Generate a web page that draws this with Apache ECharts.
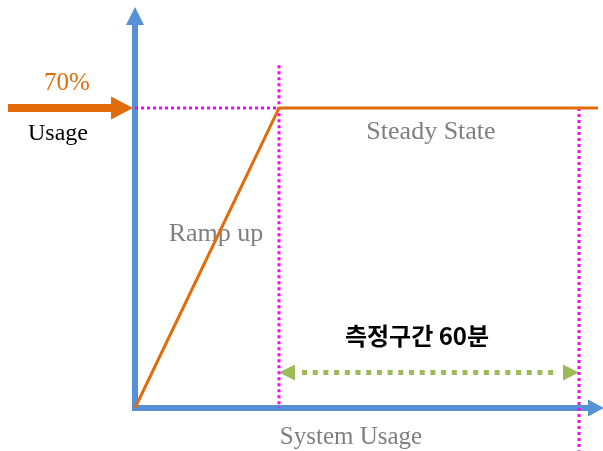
<!DOCTYPE html>
<html><head><meta charset="utf-8">
<script src="https://cdn.jsdelivr.net/npm/echarts@6/dist/echarts.min.js"></script>
<style>html,body{margin:0;padding:0;background:#fff}#c{width:603px;height:451px}</style>
</head><body><div id="c"></div>
<script>
// usage profile: time (min) vs system usage (%)
const profileTime = [0, 28.8, 95];
const profileUsage = [0, 70, 70];
const targetUsage = 70;
const measureStart = 28.8;
const measureEnd = 88.8;
const markerTopUsage = 80;
const markerBottomUsage = -10;
const spanUsage = 8.3;
const usageArrowTime = [-25.4, -0.4];
const labelTexts = {
  target: '70%',
  usage: 'Usage',
  steady: 'Steady State',
  ramp: 'Ramp up',
  span: '측정구간 60분',
  xName: 'System Usage'
};

const ORANGE = '#E36C0A', BLUE = '#5690D6', MAGENTA = '#FF00FF', GREEN = '#9BBB59', GRAY = '#7F7F7F';
const SERIF = '"Liberation Serif", "DejaVu Serif", serif';

// arrows: [xStart, xEnd, y, headAtStart, headAtEnd, kind]
const arrowItems = [
  [usageArrowTime[0], usageArrowTime[1], targetUsage, 0, 1, 0],
  [measureStart, measureEnd, spanUsage, 1, 1, 1]
];
const arrowStyles = [
  {color: ORANGE, width: 8, headLen: 22, headHalf: 11.5, dash: null, gap: 0},
  {color: GREEN, width: 5, headLen: 16, headHalf: 8, dash: [5, 5.7], gap: 7}
];

function renderArrow(params, api) {
  const a = api.coord([api.value(0), api.value(2)]);
  const b = api.coord([api.value(1), api.value(2)]);
  const st = arrowStyles[api.value(5)];
  const hs = api.value(3), he = api.value(4);
  const children = [];
  const x0 = a[0] + (hs ? st.headLen + st.gap : 0);
  const x1 = b[0] - (he ? st.headLen + st.gap : 0);
  children.push({type: 'line', shape: {x1: x0, y1: a[1], x2: x1, y2: b[1]},
    style: {stroke: st.color, lineWidth: st.width, lineDash: st.dash || null, lineCap: 'butt'}});
  if (hs) children.push({type: 'polygon', shape: {points: [[a[0], a[1]], [a[0] + st.headLen, a[1] - st.headHalf], [a[0] + st.headLen, a[1] + st.headHalf]]}, style: {fill: st.color}});
  if (he) children.push({type: 'polygon', shape: {points: [[b[0], b[1]], [b[0] - st.headLen, b[1] - st.headHalf], [b[0] - st.headLen, b[1] + st.headHalf]]}, style: {fill: st.color}});
  return {type: 'group', children};
}

const chart = echarts.init(document.getElementById('c'), null, {renderer: 'canvas'});
const base = {type: 'line', silent: true, clip: false, showSymbol: false, symbol: 'none', animation: false};

chart.setOption({
  animation: false,
  grid: {left: 135, right: 7, top: 16, bottom: 43, containLabel: false},
  xAxis: {
    type: 'value', min: 0, max: 92.2,
    axisLine: {show: true, symbol: ['none', 'triangle'], symbolSize: [17, 16],
      lineStyle: {color: BLUE, width: 6}},
    axisTick: {show: false}, axisLabel: {show: false}, splitLine: {show: false}
  },
  yAxis: {
    type: 'value', min: 0, max: 91.5,
    axisLine: {show: true, symbol: ['none', 'triangle'], symbolSize: [18, 18],
      lineStyle: {color: BLUE, width: 6, cap: 'square'}},
    axisTick: {show: false}, axisLabel: {show: false}, splitLine: {show: false}
  },
  series: [
    Object.assign({}, base, {
      data: [[0, targetUsage], [measureStart, targetUsage]],
      lineStyle: {color: MAGENTA, width: 3, type: [3, 3]}
    }),
    Object.assign({}, base, {
      data: [[measureStart, markerTopUsage], [measureStart, 0]],
      lineStyle: {color: MAGENTA, width: 3, type: [3, 3]}
    }),
    Object.assign({}, base, {
      data: [[measureEnd, targetUsage], [measureEnd, markerBottomUsage]],
      lineStyle: {color: MAGENTA, width: 3, type: [3, 3]}
    }),
    Object.assign({}, base, {
      data: profileTime.map((t, i) => [t, profileUsage[i]]),
      lineStyle: {color: ORANGE, width: 3}
    }),
    {
      type: 'custom', silent: true, clip: false, animation: false,
      renderItem: renderArrow,
      encode: {x: [0, 1], y: 2},
      data: arrowItems
    }
  ],
  graphic: [
    {type: 'text', x: 67, y: 83, style: {text: labelTexts.target, font: '25px ' + SERIF, fill: ORANGE, align: 'center', verticalAlign: 'middle'}},
    {type: 'text', x: 58, y: 134, style: {text: labelTexts.usage, font: '24px ' + SERIF, fill: '#000', align: 'center', verticalAlign: 'middle'}},
    {type: 'text', x: 431, y: 132, style: {text: labelTexts.steady, font: '26px ' + SERIF, fill: GRAY, align: 'center', verticalAlign: 'middle'}},
    {type: 'text', x: 216, y: 234, style: {text: labelTexts.ramp, font: '26px ' + SERIF, fill: GRAY, align: 'center', verticalAlign: 'middle'}},
    {type: 'text', x: 417, y: 336, style: {text: labelTexts.span, font: 'bold 24px "Noto Sans CJK KR"', fill: '#000', align: 'center', verticalAlign: 'middle'}},
    {type: 'text', x: 351, y: 437, style: {text: labelTexts.xName, font: '25px ' + SERIF, fill: GRAY, align: 'center', verticalAlign: 'middle'}}
  ]
});
</script></body></html>
